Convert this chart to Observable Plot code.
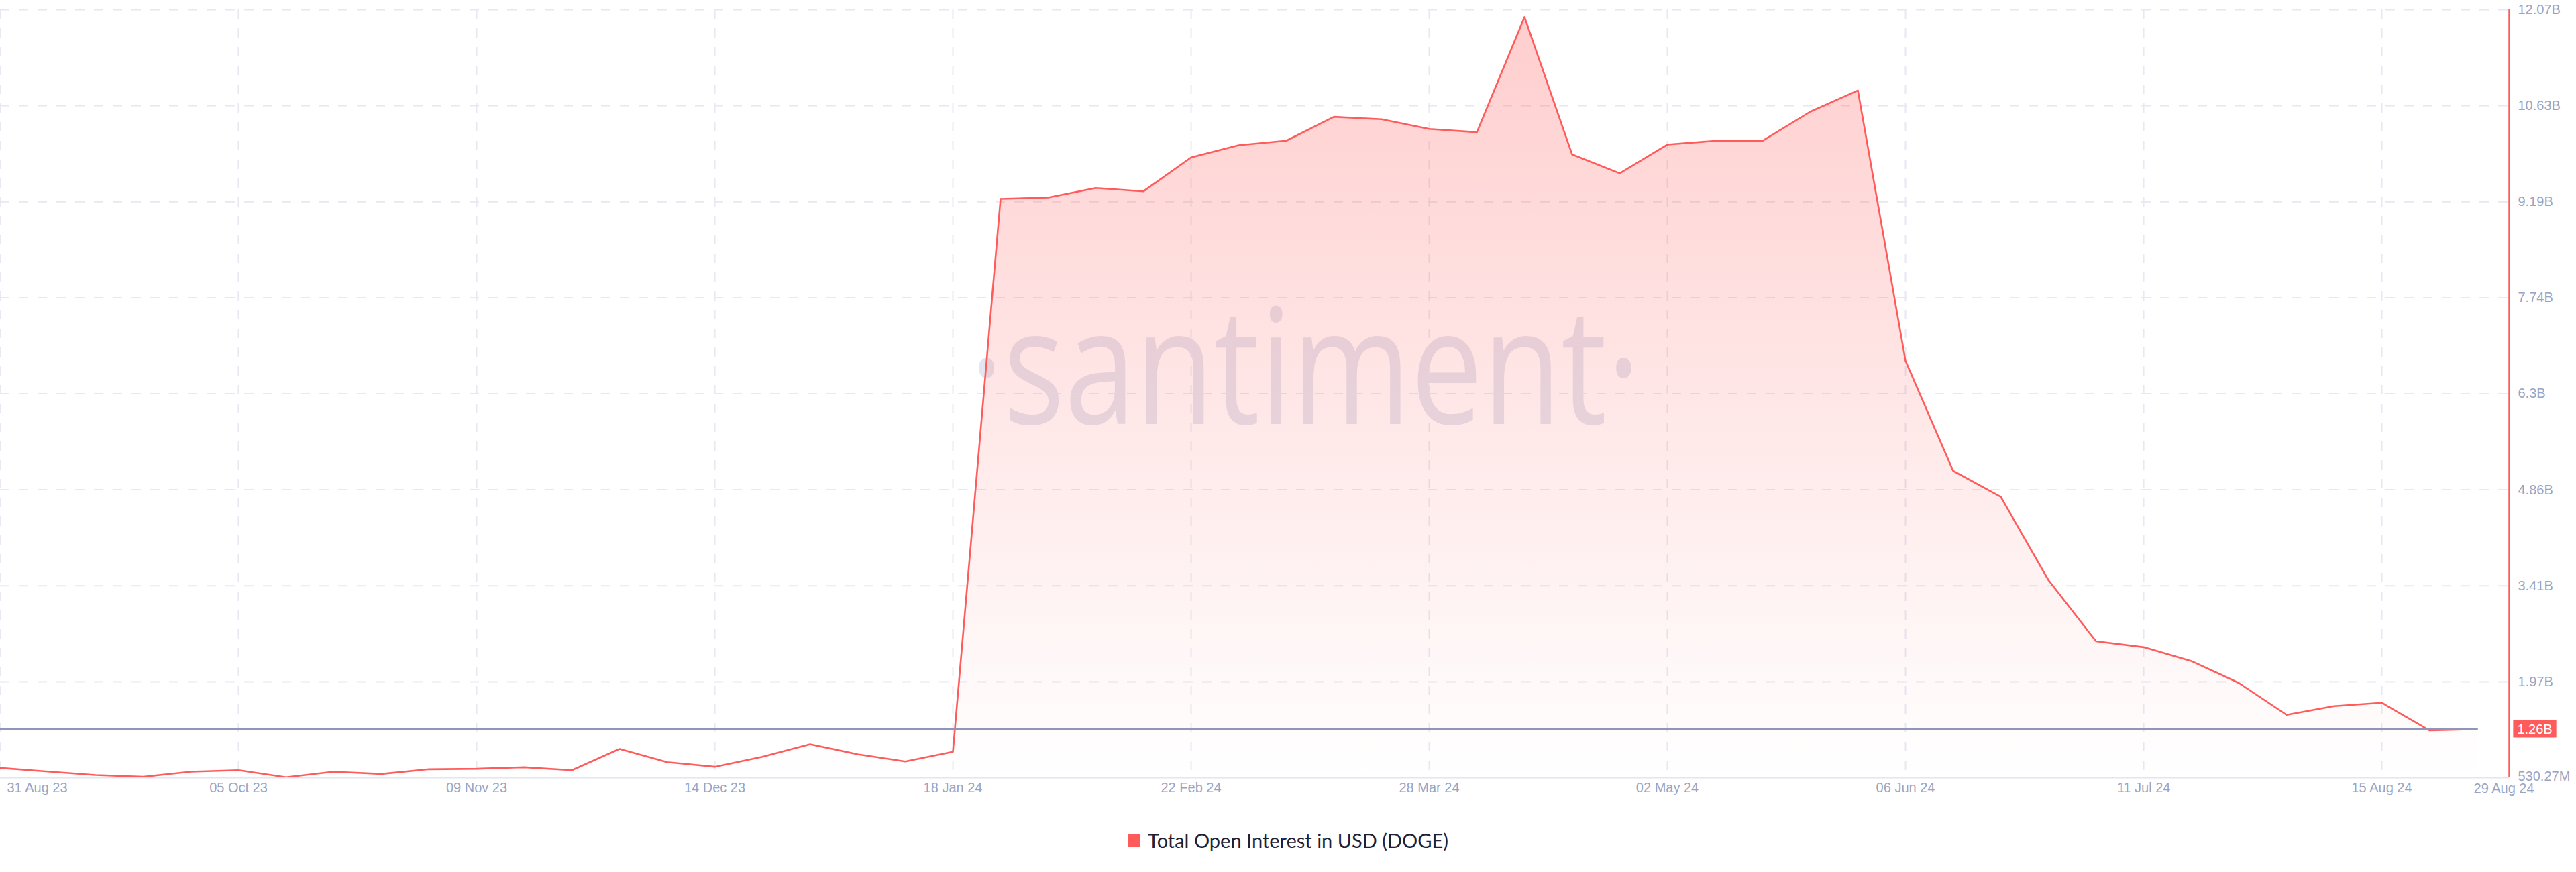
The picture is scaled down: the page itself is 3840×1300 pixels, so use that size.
<!DOCTYPE html>
<html>
<head>
<meta charset="utf-8">
<script src="https://cdn.jsdelivr.net/npm/d3@7"></script>
<script src="https://cdn.jsdelivr.net/npm/@observablehq/plot@0.6"></script>
<style>
  html, body { margin: 0; padding: 0; background: #ffffff; }
  #chart svg { display: block; }
  .legend { height: 64px; display: flex; align-items: center; justify-content: center;
            font-family: Lato, "Noto Sans", sans-serif; font-size: 29px; color: #1e2134; }
  .legend .sw { width: 19px; height: 19px; background: #ff5b5b; margin-right: 11px; }
</style>
</head>
<body>
<div id="chart"></div>
<div class="legend"><span class="sw"></span><span id="legend-text"></span></div>
<script>
// ---- data (weekly) ----
const dates = [
  "2023-08-31","2023-09-07","2023-09-14","2023-09-21","2023-09-28","2023-10-05","2023-10-12",
  "2023-10-19","2023-10-26","2023-11-02","2023-11-09","2023-11-16","2023-11-23","2023-11-30",
  "2023-12-07","2023-12-14","2023-12-21","2023-12-28","2024-01-04","2024-01-11","2024-01-18",
  "2024-01-25","2024-02-01","2024-02-08","2024-02-15","2024-02-22","2024-02-29","2024-03-07",
  "2024-03-14","2024-03-21","2024-03-28","2024-04-04","2024-04-11","2024-04-18","2024-04-25",
  "2024-05-02","2024-05-09","2024-05-16","2024-05-23","2024-05-30","2024-06-06","2024-06-13",
  "2024-06-20","2024-06-27","2024-07-04","2024-07-11","2024-07-18","2024-07-25","2024-08-01",
  "2024-08-08","2024-08-15","2024-08-22","2024-08-29"
];
// Total open interest in USD, billions
const openInterestB = [
  0.678, 0.624, 0.571, 0.544, 0.621, 0.644, 0.537,
  0.621, 0.587, 0.658, 0.665, 0.688, 0.644, 0.964,
  0.765, 0.695, 0.846, 1.034, 0.883, 0.775, 0.920,
  9.228, 9.248, 9.392, 9.342, 9.850, 10.034, 10.102,
  10.461, 10.424, 10.279, 10.229, 11.960, 9.895, 9.612,
  10.044, 10.100, 10.100, 10.538, 10.857, 6.794, 5.141,
  4.751, 3.501, 2.581, 2.492, 2.285, 1.954, 1.475,
  1.606, 1.657, 1.241, 1.260
];

const xTickDates  = ["2023-08-31","2023-10-05","2023-11-09","2023-12-14","2024-01-18","2024-02-22",
                     "2024-03-28","2024-05-02","2024-06-06","2024-07-11","2024-08-15"];
const xTickLabels = ["31 Aug 23","05 Oct 23","09 Nov 23","14 Dec 23","18 Jan 24","22 Feb 24",
                     "28 Mar 24","02 May 24","06 Jun 24","11 Jul 24","15 Aug 24"];
const lastDate = "2024-08-29";
const lastDateLabel = "29 Aug 24";
const xDomain = ["2023-08-31", "2024-09-02T17:30:00Z"];

const yTickValuesB = [0.53027, 1.9727, 3.4152, 4.8577, 6.3002, 7.7426, 9.1851, 10.6276, 12.07];
const yTickLabels  = ["530.27M","1.97B","3.41B","4.86B","6.3B","7.74B","9.19B","10.63B","12.07B"];

const latestValueB = 1.26;
const latestLabel = "1.26B";
const seriesName = "Total Open Interest in USD (DOGE)";
const watermark = "\u00B7santiment\u00B7";

// ---- build ----
const data = dates.map((d, i) => ({date: new Date(d), value: openInterestB[i] * 1e9}));
const yMin = yTickValuesB[0] * 1e9;
const yMax = yTickValuesB[yTickValuesB.length - 1] * 1e9;
const xEnd = new Date(xDomain[1]);

const axisColor = "#99a4c3";
const gridColor = "#e6e8f2";
const red = "#ff5b5b";

document.getElementById("legend-text").textContent = seriesName;

const plot = Plot.plot({
  width: 3840,
  height: 1220,
  marginLeft: 0,
  marginRight: 100,
  marginTop: 14,
  marginBottom: 61,
  x: {type: "utc", domain: xDomain.map(d => new Date(d)), axis: null},
  y: {domain: [yMin, yMax], axis: null},
  style: {fontFamily: "'Liberation Sans', Arial, sans-serif", background: "#ffffff", overflow: "visible"},
  marks: [
    Plot.text([watermark], {text: d => d, frameAnchor: "middle", dx: 75, dy: -32,
      fontSize: 241, fontFamily: "'Open Sans', sans-serif", fill: "#e3e6f0"}),
    Plot.ruleY(yTickValuesB.slice(1), {y: d => d * 1e9, stroke: gridColor, strokeWidth: 2, strokeDasharray: "14,14"}),
    Plot.ruleX(xTickDates, {x: d => new Date(d), stroke: gridColor, strokeWidth: 2, strokeDasharray: "14,14"}),
    Plot.areaY(data, {x: "date", y1: yMin, y2: "value", fill: "url(#oiGrad)"}),
    Plot.lineY(data, {x: "date", y: "value", stroke: red, strokeWidth: 2.6}),
    Plot.ruleY([yMin], {stroke: "#e4e6ef", strokeWidth: 2}),
    Plot.ruleY([latestValueB * 1e9], {x1: data[0].date, x2: data[data.length - 1].date,
      stroke: "#8f96b9", strokeWidth: 4}),
    Plot.ruleX([xEnd], {y1: yMin, y2: yMax, stroke: red, strokeWidth: 2.5}),
    Plot.text(yTickValuesB.slice(1), {y: d => d * 1e9, text: (d, i) => yTickLabels[i + 1], frameAnchor: "right",
      dx: 13, textAnchor: "start", fill: axisColor, fontSize: 20}),
    Plot.text(yTickValuesB.slice(0, 1), {y: d => d * 1e9, text: () => yTickLabels[0], frameAnchor: "right",
      dx: 13, dy: -2, textAnchor: "start", fill: axisColor, fontSize: 20}),
    Plot.text(xTickDates.slice(0, 1), {x: d => new Date(d), text: (d, i) => xTickLabels[i],
      frameAnchor: "bottom", dy: 21, dx: 10, textAnchor: "start", fill: axisColor, fontSize: 20}),
    Plot.text(xTickDates.slice(1), {x: d => new Date(d), text: (d, i) => xTickLabels[i + 1],
      frameAnchor: "bottom", dy: 21, textAnchor: "middle", fill: axisColor, fontSize: 20}),
    Plot.text([lastDate], {x: d => new Date(d), text: () => lastDateLabel,
      frameAnchor: "bottom", dy: 22, dx: -5, textAnchor: "start", fill: axisColor, fontSize: 20}),
    Plot.text([latestValueB], {y: d => d * 1e9, text: () => latestLabel, frameAnchor: "right",
      dx: 38, textAnchor: "middle", fill: "#ffffff", fontSize: 20})
  ]
});

document.getElementById("chart").appendChild(plot);

// gradient for the area fill
const svg = d3.select(plot);
const defs = svg.insert("defs", ":first-child");
const lg = defs.append("linearGradient").attr("id", "oiGrad")
  .attr("x1", 0).attr("y1", 0).attr("x2", 0).attr("y2", 1);
lg.append("stop").attr("offset", "0%").attr("stop-color", red).attr("stop-opacity", 0.3);
lg.append("stop").attr("offset", "100%").attr("stop-color", red).attr("stop-opacity", 0.0);

// watermark condensed width, badge background
const textGroups = plot.querySelectorAll('g[aria-label="text"]');
const wm = textGroups[0].querySelector("text");
wm.setAttribute("textLength", 1000);
wm.setAttribute("lengthAdjust", "spacingAndGlyphs");

const badgeG = textGroups[textGroups.length - 1];
const badgeText = badgeG.querySelector("text");
const bb = badgeText.getBBox();
const ctm = badgeText.getCTM();
const rect = document.createElementNS("http://www.w3.org/2000/svg", "rect");
rect.setAttribute("x", bb.x + (ctm ? ctm.e : 0) - 6);
rect.setAttribute("y", bb.y + (ctm ? ctm.f : 0) - 2);
rect.setAttribute("width", bb.width + 12);
rect.setAttribute("height", bb.height + 4);
rect.setAttribute("fill", red);
plot.insertBefore(rect, badgeG);
</script>
</body>
</html>
